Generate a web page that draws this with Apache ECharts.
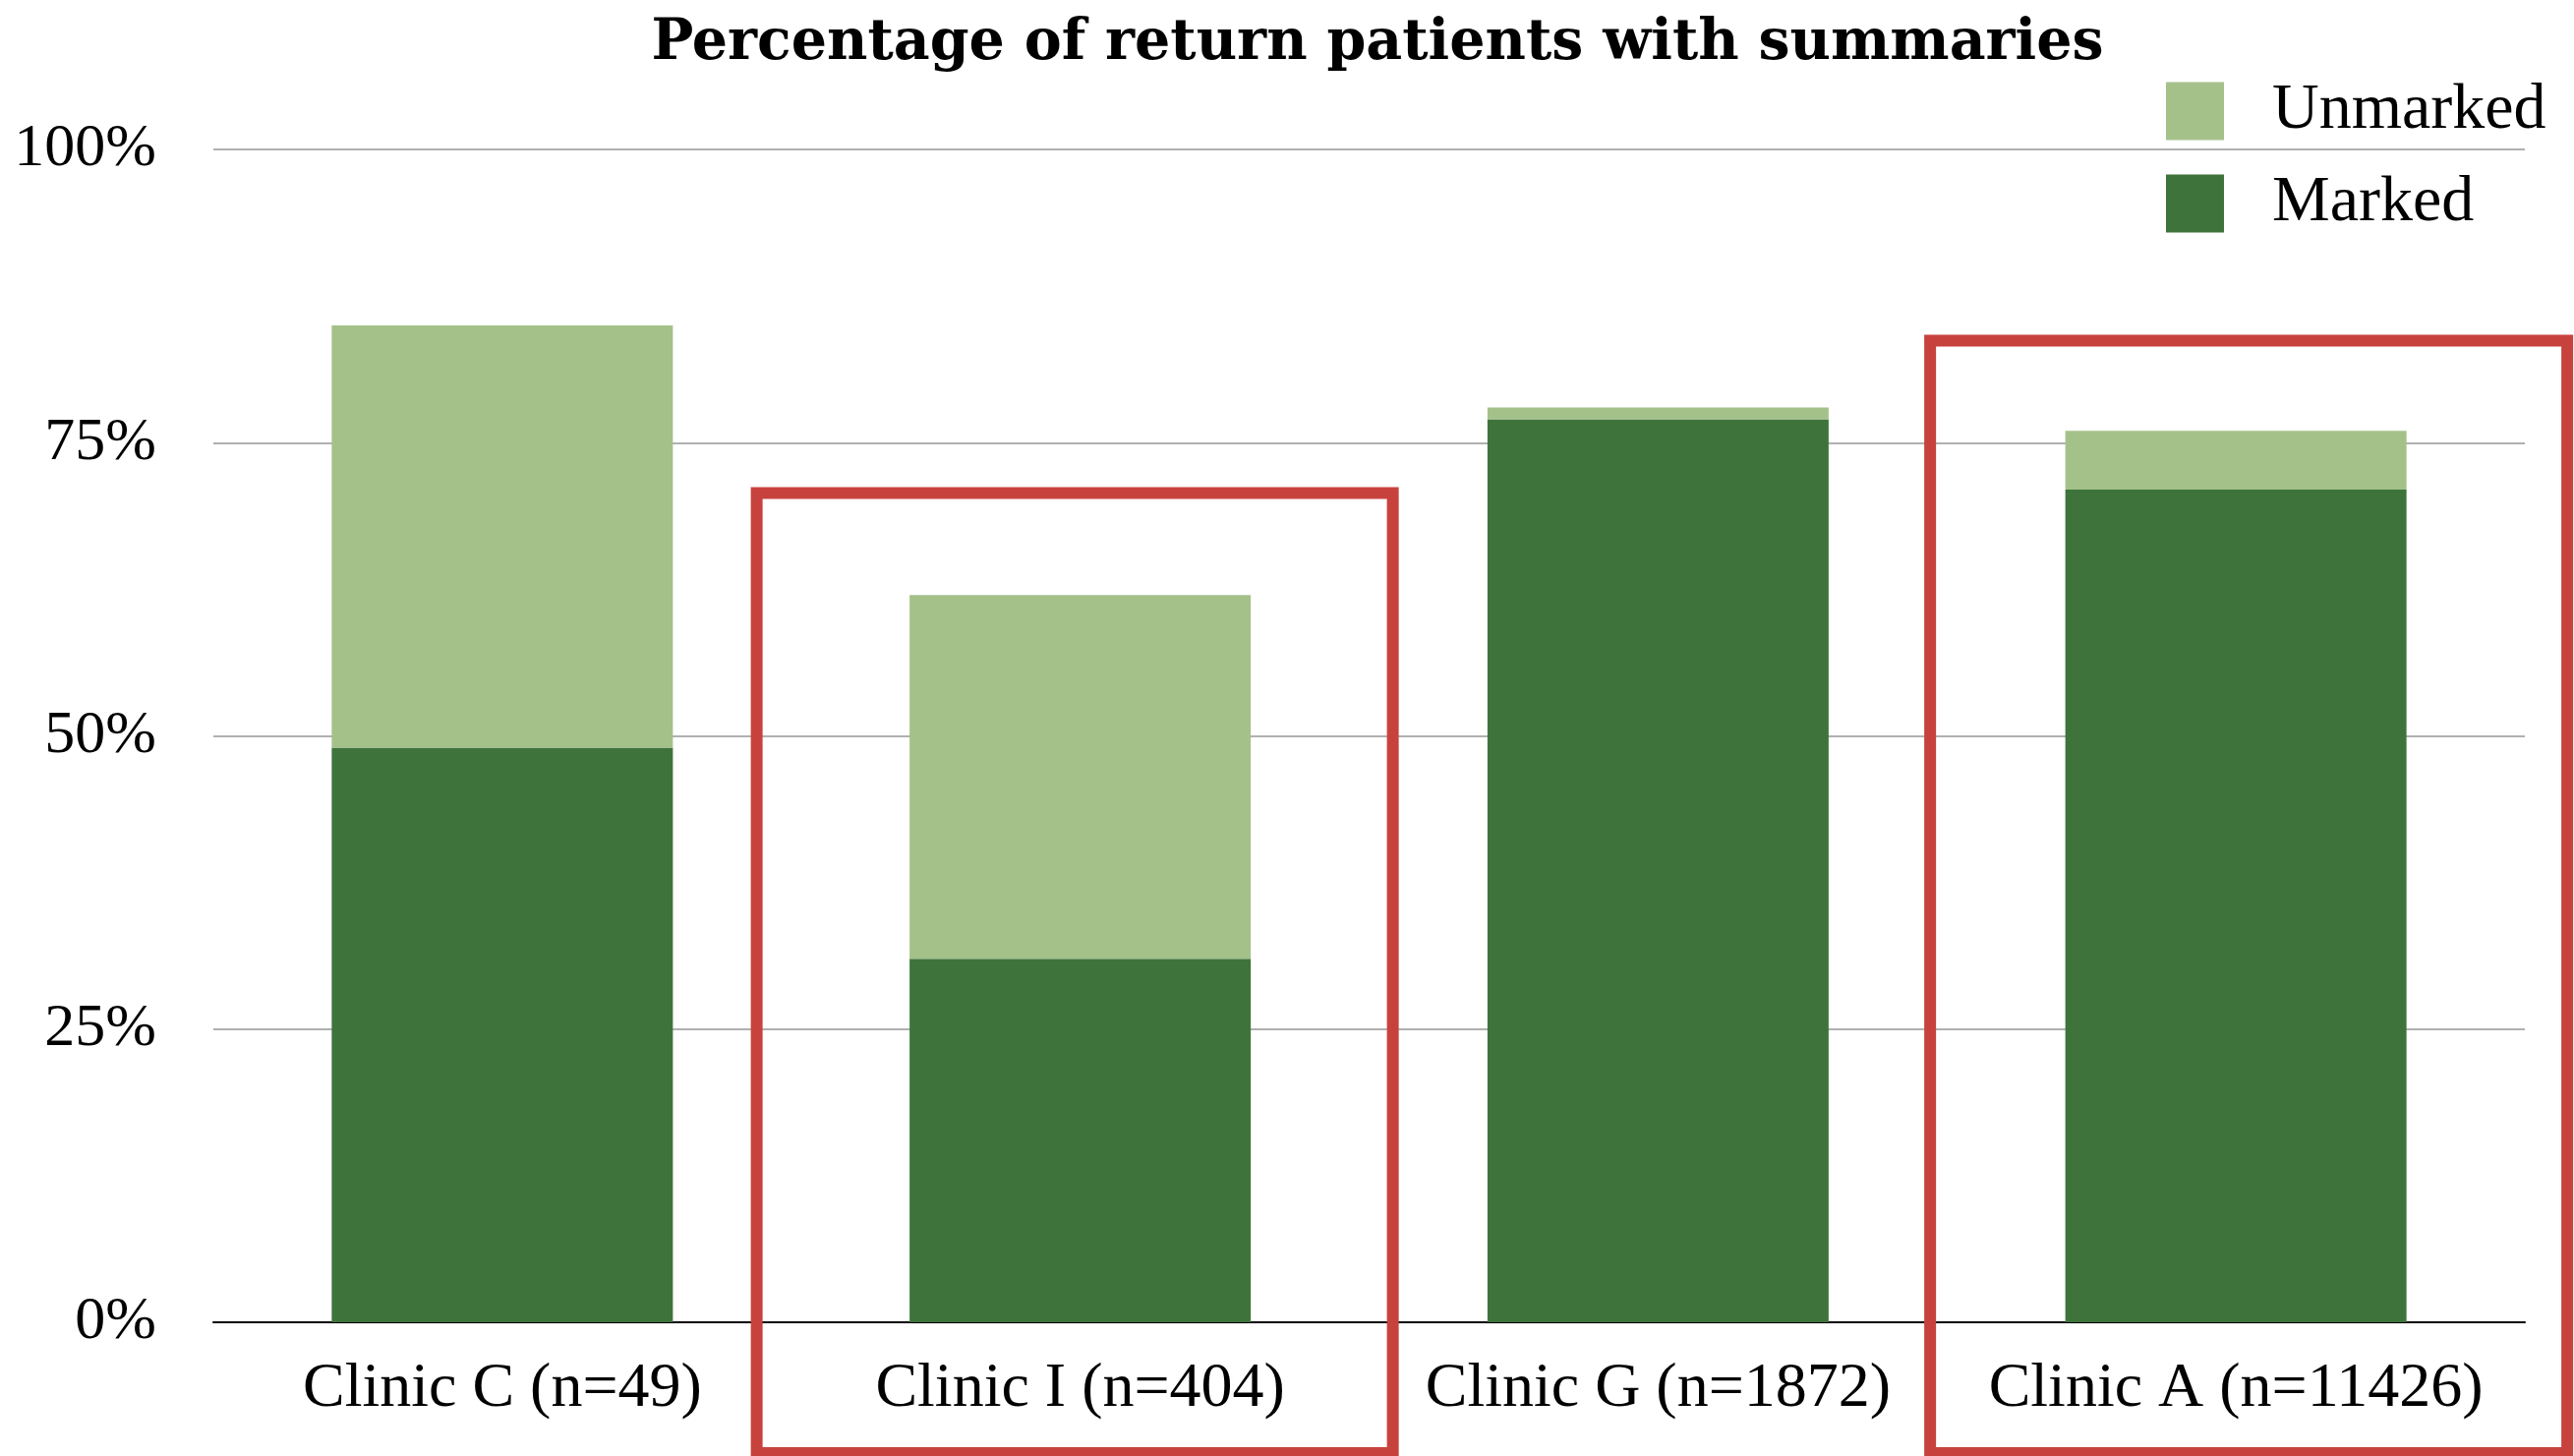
<!DOCTYPE html>
<html>
<head>
	<meta charset="utf-8" />
	<title>Percentage of return patients with summaries</title>
	<script src="https://cdn.jsdelivr.net/npm/echarts@6/dist/echarts.min.js"></script>
	<style>
		html, body { margin: 0; padding: 0; background: #fff; }
		#chart { width: 2618px; height: 1481px; }
	</style>
</head>
<body>
	<div id="chart"></div>
	<script type="text/javascript">
		// data
		const clinics = ['Clinic C (n=49)', 'Clinic I (n=404)', 'Clinic G (n=1872)', 'Clinic A (n=11426)'];
		const marked = [49, 31, 77, 71];
		const unmarked = [36, 31, 1, 5];

		// red highlight boxes: which clinic, and the value where the box top sits
		const boxClinics = ['Clinic I (n=404)', 'Clinic A (n=11426)'];
		const boxTops = [70.7, 83.7];
		const boxSides = [[-329, 318], [-311, 337]];

		const serif = '"Liberation Serif", "DejaVu Serif", serif';

		const chart = echarts.init(document.getElementById('chart'));

		const option = {
			backgroundColor: '#fff',
			animation: false,
			title: {
				text: 'Percentage of return patients with summaries',
				left: 1396,
				top: 12,
				textAlign: 'center',
				textStyle: {
					fontFamily: '"DejaVu Serif", serif',
					fontWeight: 'bold',
					fontSize: 57,
					color: '#000'
				}
			},
			legend: {
				data: ['Unmarked', 'Marked'],
				orient: 'vertical',
				left: 2203,
				top: 80,
				padding: 0,
				itemWidth: 59,
				itemHeight: 59,
				itemGap: 28,
				icon: 'rect',
				textStyle: {
					fontFamily: serif,
					fontSize: 66,
					color: '#000',
					padding: [0, 0, 0, 44]
				}
			},
			grid: {
				left: 217,
				right: 50,
				top: 152,
				bottom: 136,
				containLabel: false
			},
			xAxis: {
				type: 'category',
				data: clinics,
				axisLine: { lineStyle: { color: '#000', width: 2 } },
				axisTick: { show: false },
				axisLabel: {
					interval: 0,
					margin: 36,
					fontFamily: serif,
					fontSize: 64,
					color: '#000'
				}
			},
			yAxis: {
				type: 'value',
				min: 0,
				max: 100,
				interval: 25,
				axisLine: { show: false },
				axisTick: { show: false },
				splitLine: { lineStyle: { color: '#b0b0b0', width: 2 } },
				axisLabel: {
					formatter: '{value}%',
					margin: 58,
					fontFamily: serif,
					fontSize: 62,
					color: '#000'
				}
			},
			series: [
				{
					name: 'Marked',
					type: 'bar',
					stack: 'total',
					barWidth: 347,
					itemStyle: { color: '#3e743b' },
					data: marked
				},
				{
					name: 'Unmarked',
					type: 'bar',
					stack: 'total',
					barWidth: 347,
					itemStyle: { color: '#a4c18a' },
					data: unmarked
				}
			]
		};

		chart.setOption(option);

		// draw the highlight boxes from the axis scales
		const boxes = boxClinics.map(function (name, i) {
			const cx = chart.convertToPixel({ xAxisIndex: 0 }, name);
			const ty = chart.convertToPixel({ yAxisIndex: 0 }, boxTops[i]);
			const l = boxSides[i][0], r = boxSides[i][1];
			return {
				type: 'rect',
				z: 100,
				shape: { x: cx + l, y: ty, width: r - l, height: 1478 - ty },
				style: { fill: 'none', stroke: '#c8423d', lineWidth: 12 }
			};
		});
		chart.setOption({ graphic: boxes });
	</script>
</body>
</html>
